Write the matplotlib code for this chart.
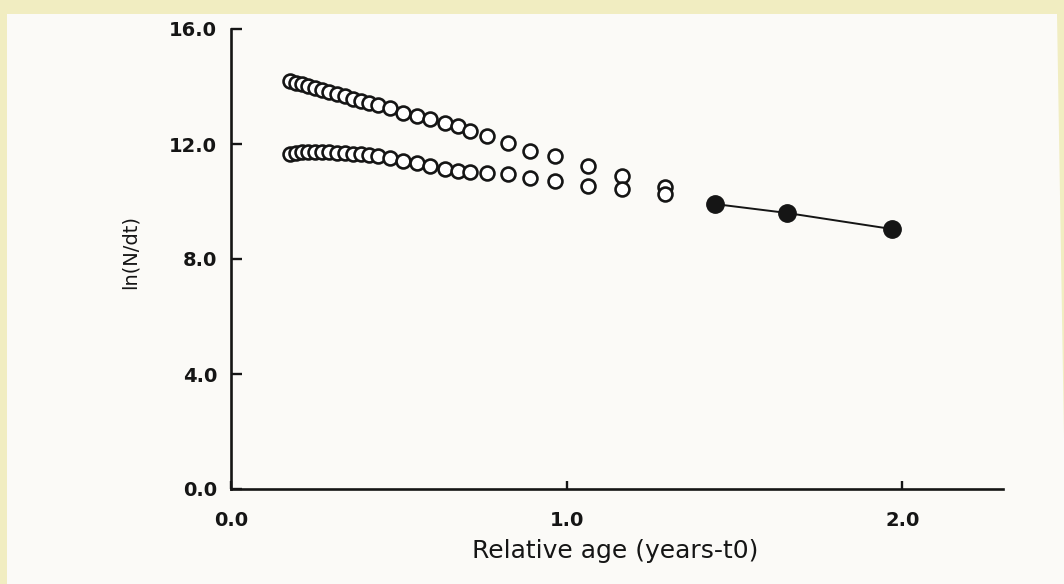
import matplotlib
matplotlib.use("Agg")
import matplotlib.pyplot as plt
from matplotlib.patches import Polygon

# ---- data ----
age = [0.176, 0.194, 0.212, 0.230, 0.250, 0.271, 0.292, 0.316, 0.340, 0.364,
       0.388, 0.411, 0.438, 0.474, 0.513, 0.554, 0.593, 0.638, 0.677, 0.712,
       0.763, 0.826, 0.891, 0.966, 1.064, 1.165, 1.294]
ln_upper = [14.19, 14.13, 14.07, 14.02, 13.95, 13.88, 13.81, 13.74, 13.67, 13.58,
            13.51, 13.44, 13.36, 13.25, 13.08, 12.97, 12.87, 12.73, 12.63, 12.45,
            12.28, 12.03, 11.76, 11.59, 11.25, 10.89, 10.50]
ln_lower = [11.65, 11.69, 11.72, 11.72, 11.72, 11.72, 11.72, 11.69, 11.69, 11.65,
            11.65, 11.62, 11.58, 11.51, 11.41, 11.34, 11.23, 11.13, 11.06, 11.03,
            10.99, 10.96, 10.82, 10.71, 10.54, 10.43, 10.26]
age_fit = [1.443, 1.657, 1.970]
ln_fit = [9.91, 9.60, 9.04]
xticks = [0.0, 1.0, 2.0]
yticks = [0.0, 4.0, 8.0, 12.0, 16.0]
xlabel = "Relative age (years-t0)"
ylabel = "ln(N/dt)"

W, H = 1064, 584
fig = plt.figure(figsize=(W / 100, H / 100), dpi=100)
fig.patch.set_facecolor("#f1edc1")
paper = Polygon([(7 / W, 0), (7 / W, 1 - 14 / H), (1057 / W, 1 - 14 / H), (1, 0.25), (1, 0)],
                closed=True, transform=fig.transFigure, facecolor="#fbfaf7",
                edgecolor="none", zorder=0)
fig.add_artist(paper)

ax = fig.add_axes([231 / W, (H - 489) / H, (1003 - 231) / W, (489 - 29) / H])
ax.set_facecolor("none")
ax.set_xlim(0, 2.3)
ax.set_ylim(0, 16)
for s in ("top", "right"):
    ax.spines[s].set_visible(False)
for s in ("left", "bottom"):
    ax.spines[s].set_linewidth(1.9)
    ax.spines[s].set_color("#151515")

ink = "#151515"
ax.plot(age, ln_upper, "o", mfc="white", mec=ink, ms=10, mew=1.9, clip_on=False, zorder=3)
ax.plot(age, ln_lower, "o", mfc="white", mec=ink, ms=10, mew=1.9, clip_on=False, zorder=3)
ax.plot(age_fit, ln_fit, "-", color=ink, lw=1.4, zorder=2)
ax.plot(age_fit, ln_fit, "o", color=ink, ms=12.5, zorder=4)

ax.set_xticks(xticks)
ax.set_xticklabels([f"{v:.1f}" for v in xticks])
ax.set_yticks(yticks)
ax.set_yticklabels([f"{v:.1f}" for v in yticks])
ax.tick_params(axis="both", direction="in", width=1.7, color=ink, labelcolor=ink,
               labelsize=14)
ax.tick_params(axis="y", length=8, pad=10)
ax.tick_params(axis="x", length=6, pad=16)
for lbl in ax.get_xticklabels() + ax.get_yticklabels():
    lbl.set_fontfamily("DejaVu Sans")
    lbl.set_fontweight("bold")

ax.set_xlabel(xlabel, fontsize=18, color=ink, family="DejaVu Sans")
ax.xaxis.label.set_va("center")
ax.xaxis.set_label_coords((615 - 231) / 772, (489 - 551) / 460)
ax.set_ylabel(ylabel, fontsize=14, color=ink, family="DejaVu Sans")
ax.yaxis.label.set_va("center")
ax.yaxis.set_label_coords((130 - 231) / 772, (489 - 252) / 460)

fig.savefig("out.png", dpi=100, facecolor=fig.get_facecolor())
